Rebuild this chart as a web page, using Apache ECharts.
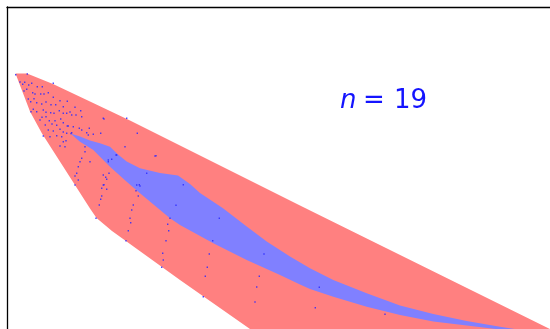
<!DOCTYPE html>
<html>
<head>
<meta charset="utf-8">
<script src="https://cdn.jsdelivr.net/npm/echarts@6/dist/echarts.min.js"></script>
<style>
  html, body { margin: 0; padding: 0; background: #fff; }
  #chart { width: 550px; height: 329px; }
</style>
</head>
<body>
<div id="chart"></div>
<script>
// Outer region (convex hull of all sample paths), listed clockwise.
const outerHull = [
  [15.5, 73.5], [27, 73.5], [53, 84], [90, 101.5], [130, 120.5], [300, 205.5], [560, 334],
  [260, 336], [180, 280], [112, 231], [96.5, 218], [90, 208.5], [42, 133.5], [30, 111.5]
];

// Inner band: upper boundary, then lower boundary back to the tip.
const innerUpper = [
  [70.5, 133.5], [80, 136.5], [90, 140.5], [100, 143.3], [110, 146.7], [118, 154.5],
  [126.7, 161.5], [140, 168.3], [160, 173], [178, 175.5], [190, 184], [200, 193],
  [223, 208.3], [246.7, 226.5], [266.7, 241.5], [290, 256.5], [310, 268.3], [333.3, 280],
  [366.7, 293.3], [400, 305.5], [433.3, 314], [466.7, 321], [500, 326.7], [540, 333]
];
const innerLower = [
  [540, 333], [500, 329.5], [466.7, 325.5], [433.3, 321.5], [400, 315], [366.7, 306.7],
  [333.3, 296.7], [310, 289], [300, 284.5], [280, 275], [246.7, 260], [213.3, 243.3],
  [180, 225], [170, 218.3], [140, 193.3], [126.7, 181.7], [110, 166.7], [93.3, 150],
  [80, 141.7]
];

// Sample points.
const samples = [
  [15.7, 74.7], [27.3, 74], [20, 82], [24.7, 82.3], [22.7, 84.3], [28.7, 85], [31.7, 83.3],
  [37.3, 86.7], [42.3, 86.7], [53.3, 83.3], [26.7, 89.3], [24, 91], [32.7, 92.7], [35, 94],
  [40.7, 94], [44, 94], [48.3, 92.7], [53.3, 97.3], [28.3, 99], [34, 98.7], [30.7, 101.7],
  [36.7, 102.7], [41.7, 104], [46, 102], [51, 104.7], [55.7, 104.7], [60, 100.7], [67.3, 101.3],
  [63.3, 106.7], [75, 107.3], [33.3, 109.3], [31, 111.7], [36.7, 111.7], [43.3, 110], [46, 112.3],
  [50.7, 112.7], [54, 113.3], [59.3, 110.7], [66.7, 113.3], [70, 112], [80.7, 110.7], [42, 117.3],
  [46, 116.7], [40, 120], [49.3, 120.7], [55, 120.7], [60.7, 119], [63.3, 122.7], [45.3, 125],
  [52, 124], [56.7, 125.3], [68.3, 126], [73.3, 126.7], [48.3, 130], [53.3, 131], [60, 129.3],
  [63.3, 132], [71.7, 132.7], [81.7, 130], [86.7, 132.7], [43.3, 136], [50, 136.7], [56.7, 135.7],
  [61.7, 136.7], [63.3, 113.3], [71.7, 115], [76, 115], [81.7, 116.7], [103.3, 118.3], [67.3, 126],
  [79.3, 128.3], [89.3, 128.3], [66.7, 133.3], [71, 133.5], [88.3, 135], [93.3, 134.3],
  [100.7, 133.3], [126.7, 118.3], [104, 119], [137.3, 133.3], [63.3, 141.7], [66, 140.7], [60, 146],
  [65, 146.7], [85, 146.7], [125, 146.7], [85, 151.7], [81.7, 158.3], [80, 161.7], [90, 161.7],
  [116, 155], [108.3, 161.7], [78.3, 166.7], [111.7, 159.3], [76.7, 173.3], [103.3, 175], [75, 176],
  [106.7, 179.3], [78.3, 180], [75, 185], [146.7, 173.3], [136.7, 185], [103.3, 185], [101.7, 188.3],
  [109, 173.3], [105.7, 177.3], [104, 184.7], [106.7, 189.3], [101.7, 196], [100.7, 199.3],
  [99.3, 205], [96, 218.3], [139.3, 184.7], [136, 190.7], [138.3, 196], [133.3, 205], [131.7, 210],
  [130, 218.3], [130.7, 222.7], [128.3, 230.7], [126, 240.7], [183.3, 184.7], [176, 205.3],
  [170, 218.3], [167.7, 224.3], [168.7, 230.7], [166, 240.7], [162.7, 253.3], [163.3, 260],
  [161.7, 267.3], [219.3, 218.3], [212.7, 240.7], [209.3, 254], [207.3, 267.3], [205.3, 276.3],
  [203.3, 296.7], [264, 254], [259.3, 276.3], [256.7, 287], [255, 302], [319.3, 287.3],
  [315.3, 307.7], [385, 314.3], [156, 155.7], [155, 156], [116.7, 155], [108.3, 160], [140, 186]
];

// Annotation.
const sampleSize = 19;

const BLUE = '#8080ff';
const RED = '#ff8080';

function polygonSeries(points, color, z) {
  return {
    type: 'custom',
    coordinateSystem: 'cartesian2d',
    data: [points[0]],
    silent: true,
    clip: false,
    z: z,
    renderItem: function (params, api) {
      return {
        type: 'polygon',
        shape: { points: points.map(function (p) { return api.coord(p); }) },
        style: { fill: color, stroke: null }
      };
    }
  };
}

const chart = echarts.init(document.getElementById('chart'), null, { renderer: 'canvas' });

chart.setOption({
  animation: false,
  backgroundColor: '#ffffff',
  // Only the top and left frame edges fall inside the view.
  grid: { left: 7, top: 7, right: 0, bottom: 0, containLabel: false, outerBoundsMode: 'none' },
  xAxis: {
    type: 'value', min: 7, max: 550, position: 'top',
    axisLine: { show: true, onZero: false, lineStyle: { color: '#000', width: 1.3 } },
    axisTick: { show: false }, axisLabel: { show: false }, splitLine: { show: false }
  },
  yAxis: {
    type: 'value', min: 7, max: 329, inverse: true, position: 'left',
    axisLine: { show: true, onZero: false, lineStyle: { color: '#000', width: 1.3 } },
    axisTick: { show: false }, axisLabel: { show: false }, splitLine: { show: false }
  },
  series: [
    polygonSeries(outerHull, RED, 1),
    polygonSeries(innerUpper.concat(innerLower), BLUE, 2),
    {
      type: 'scatter',
      data: samples,
      symbol: 'rect',
      symbolSize: 1.4,
      silent: true,
      clip: false,
      z: 3,
      itemStyle: { color: '#2a2aff', opacity: 0.85 }
    }
  ],
  graphic: [
    {
      type: 'text', left: 340, top: 88, z: 10,
      style: { text: 'n', font: 'italic 26px "DejaVu Sans"', fill: '#1414ff' }
    },
    {
      type: 'text', left: 363, top: 88, z: 10,
      style: { text: '=', font: '26px "DejaVu Sans"', fill: '#1414ff' }
    },
    {
      type: 'text', left: 394, top: 88, z: 10,
      style: { text: String(sampleSize), font: '26px "DejaVu Sans"', fill: '#1414ff' }
    }
  ]
});
</script>
</body>
</html>
